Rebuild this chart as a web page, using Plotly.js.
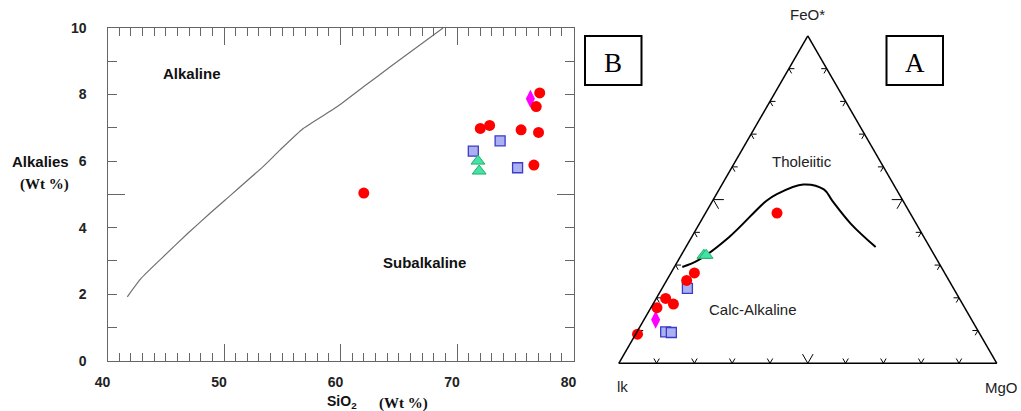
<!DOCTYPE html>
<html>
<head>
<meta charset="utf-8">
<script src="https://cdn.plot.ly/plotly-3.0.1.min.js"></script>
<style>
  html, body { margin: 0; padding: 0; background: #fff; }
  #chart { width: 1021px; height: 411px; }
</style>
</head>
<body>
<div id="chart"></div>
<script>
// ---- Alkalies vs SiO2 (wt %) ----
const redSiO2   = [62.0, 72.0, 72.8, 75.5, 77.0, 76.6, 77.1, 76.8];
const redAlk    = [5.04, 6.98, 7.07, 6.94, 6.86, 5.88, 8.05, 7.64];
const blueSiO2  = [71.4, 73.7, 75.2];
const blueAlk   = [6.30, 6.61, 5.80];
const greenSiO2 = [71.8, 71.9];
const greenAlk  = [6.00, 5.70];
const pinkSiO2  = [76.3];
const pinkAlk   = [7.87];

// Alkaline / subalkaline dividing line
const divSiO2 = [41.7, 42.9, 44.8, 46.9, 48.8, 50.1, 53.4, 54.8, 56.8, 59.7, 62.0, 64.3, 68.8];
const divAlk  = [1.92, 2.48, 3.13, 3.83, 4.43, 4.83, 5.85, 6.33, 6.98, 7.63, 8.24, 8.84, 10.0];

const xTickVals = [40, 50, 60, 70, 80];
const yTickVals = [0, 2, 4, 6, 8, 10];

// ---- AFM ternary: FeO* (a), Alk (b), MgO (c), in % ----
const redFeO   = [45.9, 27.6, 25.3, 19.8, 18.1, 17.0, 8.9];
const redAlkT  = [35.2, 66.2, 69.4, 77.7, 76.5, 81.4, 90.6];
const redMgO   = [18.9, 6.2, 5.3, 2.5, 5.4, 1.6, 0.5];
const blueFeO  = [22.9, 9.6, 9.4];
const blueAlkT = [70.4, 82.8, 81.4];
const blueMgO  = [6.7, 7.6, 9.2];
const greenFeO  = [33.0, 33.0];
const greenAlkT = [61.0, 60.4];
const greenMgO  = [6.0, 6.6];
const pinkFeO  = [13.3];
const pinkAlkT = [83.6];
const pinkMgO  = [3.1];

// Tholeiitic / calc-alkaline boundary
const bndFeO = [29.4, 31.5, 38.5, 49.6, 51.6, 54.6, 53.1, 49.6, 42.6, 35.5];
const bndAlk = [68.5, 63.2, 51.6, 36.2, 32.5, 23.9, 19.2, 18.7, 17.3, 14.3];
const bndMgO = [2.1, 5.3, 9.9, 14.2, 15.9, 21.5, 27.7, 31.7, 40.1, 50.2];

// Edge tick positions (percent along each edge)
const ternTicks = [10, 20, 30, 40, 50, 60, 70, 80, 90];

// Chevron ticks: two short strokes from each edge point, parallel to the other two edges
function buildChevrons() {
  const a = [], b = [], c = [];
  const add = (pts) => {
    pts.forEach(p => { a.push(p[0]); b.push(p[1]); c.push(p[2]); });
    a.push(null); b.push(null); c.push(null);
  };
  ternTicks.forEach(t => {
    const L = t === 50 ? 2.8 : 1.45;
    // bottom edge (FeO* = 0)
    add([[L, 100 - t - L, t], [0, 100 - t, t], [L, 100 - t, t - L]]);
    // left edge (MgO = 0)
    add([[t, 100 - t - L, L], [t, 100 - t, 0], [t - L, 100 - t, L]]);
    // right edge (Alk = 0)
    add([[t, L, 100 - t - L], [t, 0, 100 - t], [t - L, L, 100 - t]]);
  });
  return { a, b, c };
}
const chev = buildChevrons();

const W = 1021, H = 411;
const px = v => v / W;
const py = v => 1 - v / H;

const blueMarker  = { symbol: 'square', size: 10, color: '#aab0f2', line: { color: '#3b3bc8', width: 1.3 } };
const greenMarker = { symbol: 'triangle-up', size: 12, color: '#44e3a4', line: { color: '#1fae6c', width: 1 } };
const pinkMarker  = { symbol: 'diamond-tall', size: 13, color: '#ff00ff', line: { width: 0 } };
const redMarker   = { symbol: 'circle', size: 11, color: '#ff0000', line: { width: 0 } };

const traces = [
  // dividing line is plotted against the labelled y axis (same range as the main one)
  { type: 'scatter', x: divSiO2, y: divAlk, mode: 'lines', line: { color: '#707070', width: 1.2, shape: 'spline', smoothing: 0.5 }, xaxis: 'x', yaxis: 'y2' },
  { type: 'scatter', x: blueSiO2, y: blueAlk, mode: 'markers', marker: blueMarker, cliponaxis: false },
  { type: 'scatter', x: greenSiO2, y: greenAlk, mode: 'markers', marker: greenMarker, cliponaxis: false },
  { type: 'scatter', x: pinkSiO2, y: pinkAlk, mode: 'markers', marker: pinkMarker, cliponaxis: false },
  { type: 'scatter', x: redSiO2, y: redAlk, mode: 'markers', marker: redMarker, cliponaxis: false },

  { type: 'scatterternary', a: chev.a, b: chev.b, c: chev.c, mode: 'lines', line: { color: '#000', width: 1 }, connectgaps: false },
  { type: 'scatterternary', a: bndFeO, b: bndAlk, c: bndMgO, mode: 'lines', line: { color: '#000', width: 2, shape: 'spline', smoothing: 1 } },
  { type: 'scatterternary', a: blueFeO, b: blueAlkT, c: blueMgO, mode: 'markers', marker: blueMarker, cliponaxis: false },
  { type: 'scatterternary', a: greenFeO, b: greenAlkT, c: greenMgO, mode: 'markers', marker: greenMarker, cliponaxis: false },
  { type: 'scatterternary', a: pinkFeO, b: pinkAlkT, c: pinkMgO, mode: 'markers', marker: pinkMarker, cliponaxis: false },
  { type: 'scatterternary', a: redFeO, b: redAlkT, c: redMgO, mode: 'markers', marker: redMarker, cliponaxis: false }
];

const axisColor = '#666';
const sans = 'Liberation Sans, Arial, sans-serif';
const serif = 'Liberation Serif, Times New Roman, serif';
const boldTick = { family: sans, size: 14, color: '#222', weight: 'bold' };

// corner labels are placed as annotations, so the axis titles stay empty
const ternAxis = {
  showline: true, linecolor: '#000', linewidth: 1.5,
  showgrid: false, ticks: '', showticklabels: false,
  title: { text: '' }, min: 0
};

const ann = (text, x, y, opts) => Object.assign({
  text, x: px(x), y: py(y), xref: 'paper', yref: 'paper',
  showarrow: false, xanchor: 'center', yanchor: 'middle',
  font: { family: sans, size: 15, color: '#222' }
}, opts || {});

const layout = {
  width: W, height: H,
  margin: { l: 0, r: 0, t: 0, b: 0 },
  paper_bgcolor: '#fff', plot_bgcolor: '#fff',
  showlegend: false, hovermode: false,
  xaxis: {
    domain: [px(107.5), px(573.5)], range: [40, 80],
    tickvals: xTickVals, ticks: 'inside', ticklen: 17, tickwidth: 1, tickcolor: axisColor,
    minor: { dtick: 1, tick0: 40, ticks: 'inside', ticklen: 8, tickwidth: 1, tickcolor: axisColor },
    showline: true, linecolor: axisColor, linewidth: 1, mirror: 'ticks',
    showgrid: false, zeroline: false, tickfont: boldTick,
    ticklabelstandoff: 8, ticklabelshift: -5
  },
  yaxis: {
    domain: [py(360.7), py(28)], range: [0, 10],
    tickvals: [0, 5, 10], ticks: 'inside', ticklen: 17, tickwidth: 1, tickcolor: axisColor,
    minor: { dtick: 1, tick0: 0, ticks: 'inside', ticklen: 9, tickwidth: 1, tickcolor: axisColor },
    showline: true, linecolor: axisColor, linewidth: 1, mirror: 'ticks',
    showgrid: false, zeroline: false, showticklabels: false
  },
  yaxis2: {
    overlaying: 'y', anchor: 'x', side: 'left', range: [0, 10],
    tickvals: yTickVals, ticks: '', showline: false, showgrid: false, zeroline: false,
    tickfont: boldTick, ticklabelstandoff: 20
  },
  ternary: {
    domain: { x: [px(618.8), px(996.8)], y: [py(369.6), py(29.6)] },
    sum: 100, bgcolor: '#fff',
    aaxis: ternAxis, baxis: ternAxis, caxis: ternAxis
  },
  shapes: [
    { type: 'rect', xref: 'paper', yref: 'paper', x0: px(585), x1: px(641.5), y0: py(85), y1: py(36), line: { color: '#000', width: 2 } },
    { type: 'rect', xref: 'paper', yref: 'paper', x0: px(886.5), x1: px(943), y0: py(85), y1: py(36), line: { color: '#000', width: 2 } }
  ],
  annotations: [
    ann('<b>Alkaline</b>', 192, 73, { font: { family: sans, size: 15, color: '#111' } }),
    ann('<b>Subalkaline</b>', 424, 262, { font: { family: sans, size: 15, color: '#111' } }),
    ann('<b>Alkalies</b>', 40, 162, { font: { family: sans, size: 15, color: '#111' } }),
    ann('<b>(Wt %)</b>', 44, 184, { font: { family: serif, size: 15, color: '#111' } }),
    ann('<b>SiO<sub>2</sub></b>', 325, 402, { xanchor: 'left', font: { family: sans, size: 14, color: '#111' } }),
    ann('<b>(Wt %)</b>', 403, 403, { font: { family: serif, size: 15, color: '#111' } }),

    ann('FeO*', 807, 15),
    ann('MgO', 1001, 387),
    ann('lk', 615, 386, { xanchor: 'left' }),
    ann('Tholeiitic', 802, 161),
    ann('Calc-Alkaline', 753, 309),
    ann('B', 613, 63, { font: { family: serif, size: 27, color: '#000' } }),
    ann('A', 914.5, 63, { font: { family: serif, size: 27, color: '#000' } })
  ]
};

Plotly.newPlot('chart', traces, layout, { staticPlot: true, displayModeBar: false });
</script>
</body>
</html>
